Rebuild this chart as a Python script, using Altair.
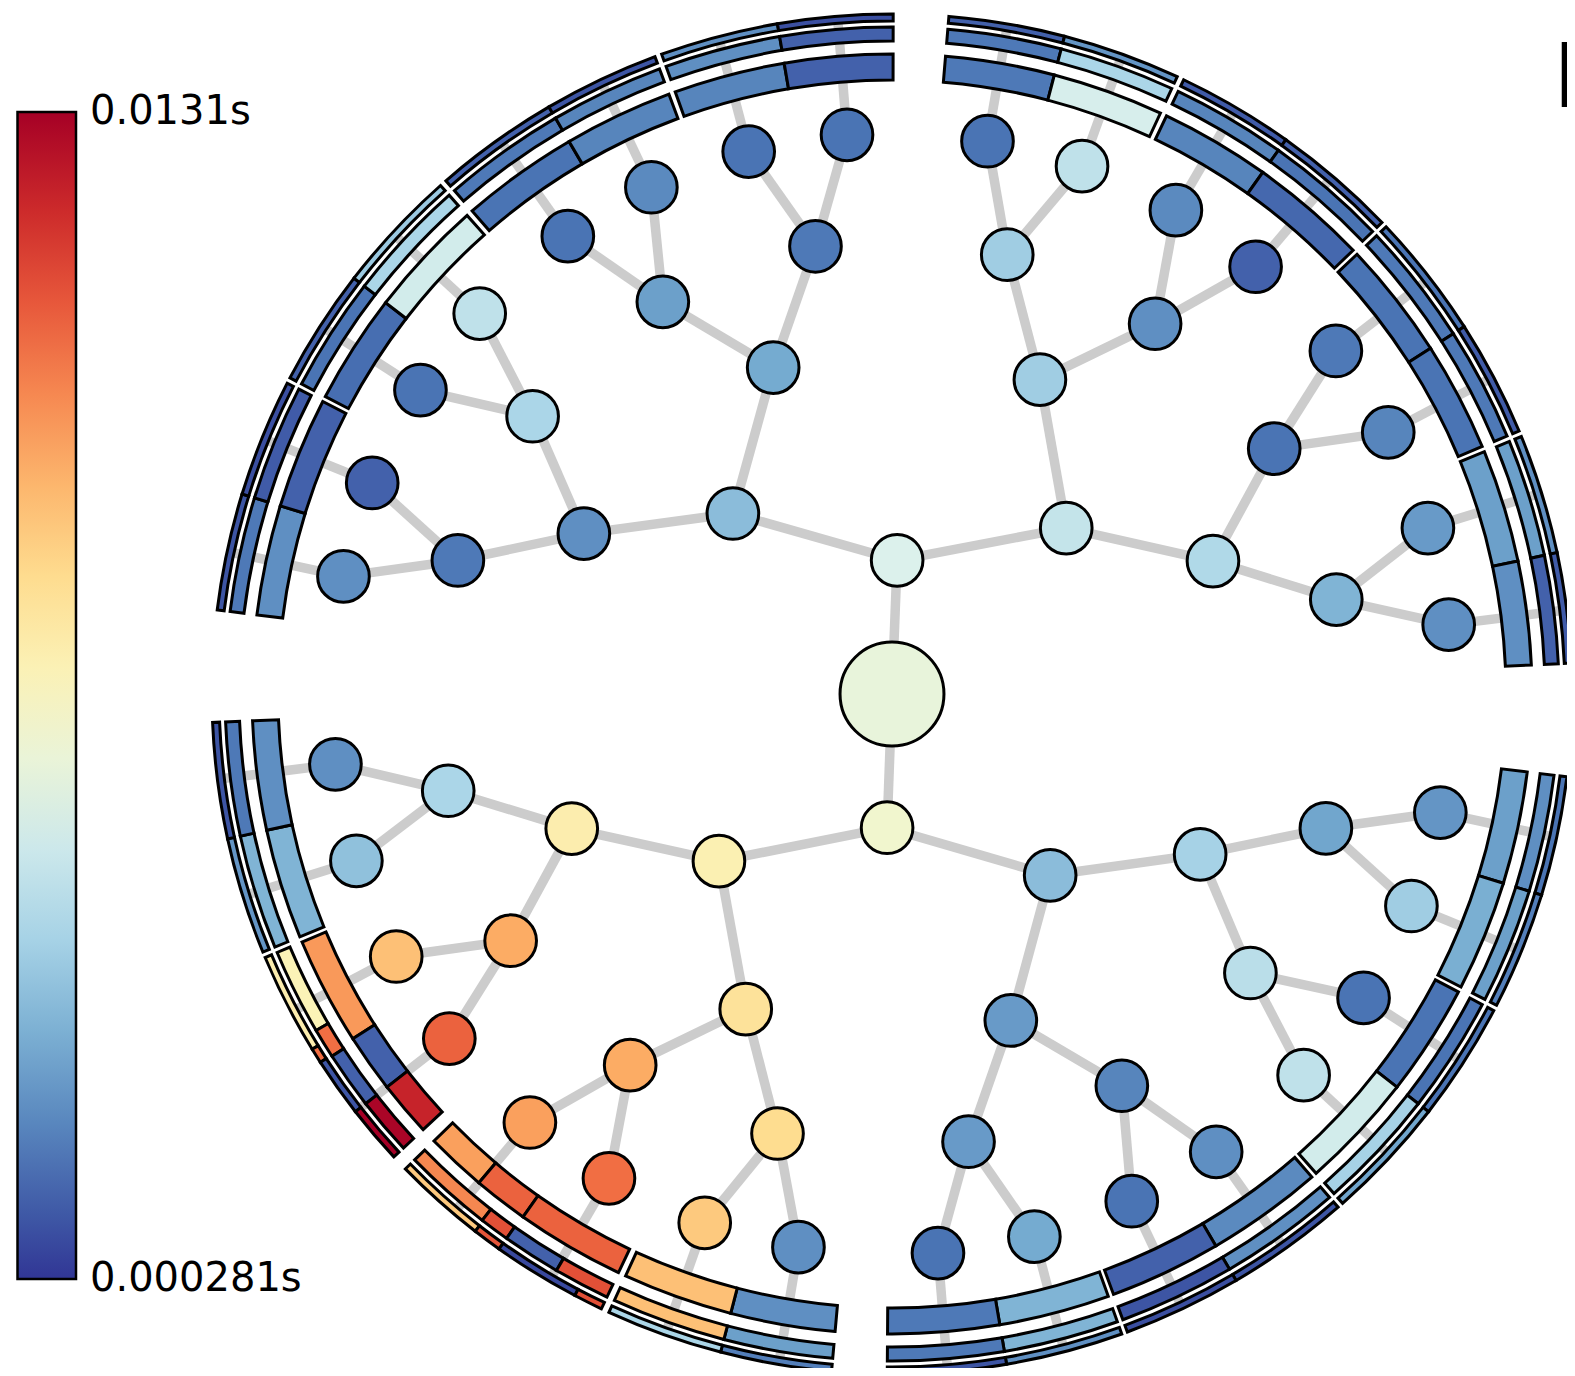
import altair as alt
import pandas as pd

# ---------------- tree nodes (radial layout: angle in degrees, ccw from east) ----------------
NODE_PARENT = [-1, 0, 0, 1, 1, 2, 2,
               3, 3, 4, 4, 5, 5, 6, 6,
               7, 7, 8, 8, 9, 9, 10, 10, 11, 11, 12, 12, 13, 13, 14, 14,
               15, 15, 16, 16, 17, 17, 18, 18, 19, 19, 20, 20, 21, 21, 22, 22,
               23, 23, 24, 24, 25, 25, 26, 26, 27, 27, 28, 28, 29, 29, 30, 30]
NODE_DEPTH = [0, 1, 1, 2, 2, 2, 2] + [3] * 8 + [4] * 16 + [5] * 32
NODE_ANGLE = [0, 87.8, 267.9, 131.4, 43.6, 224.0, 311.1,
              152.5, 110.0, 64.8, 22.5, 202.8, 245.1, 332.5, 290.0,
              162.9, 142.3, 120.3, 99.7, 75.3, 54.6, 32.7, 12.0,
              192.3, 212.9, 234.8, 255.4, 342.8, 322.1, 300.4, 279.7,
              167.9, 157.9, 147.2, 137.3, 125.3, 115.4, 104.8, 94.6,
              80.2, 70.2, 59.6, 49.6, 37.7, 27.8, 17.2, 7.1,
              187.2, 197.3, 207.9, 217.9, 229.8, 239.7, 250.5, 260.4,
              347.8, 337.8, 327.2, 317.2, 305.3, 295.3, 284.7, 274.7]
NODE_TIME = [0.00592, 0.00541, 0.00631, 0.00336, 0.00477, 0.00708, 0.00336,
             0.00220, 0.00284, 0.00387, 0.00426, 0.00720, 0.00772, 0.00400, 0.00246,
             0.00169, 0.00413, 0.00259, 0.00169, 0.00387, 0.00220, 0.00156, 0.00310,
             0.00413, 0.00925, 0.00925, 0.00797, 0.00272, 0.00451, 0.00195, 0.00246,
             0.00220, 0.00118, 0.00156, 0.00464, 0.00156, 0.00208, 0.00156, 0.00156,
             0.00156, 0.00464, 0.00208, 0.00118, 0.00169, 0.00195, 0.00246, 0.00220,
             0.00220, 0.00349, 0.00874, 0.01079, 0.00951, 0.01054, 0.00849, 0.00220,
             0.00233, 0.00387, 0.00156, 0.00464, 0.00220, 0.00156, 0.00284, 0.00156]

# ---------------- outer rings: (from angle, to angle, time) per ring level ----------------
RING_SEGMENTS = {
    1: [(162.9, 172.9, 0.00220), (152.8, 162.9, 0.00118),
        (142.3, 152.3, 0.00143), (131.6, 142.3, 0.00515),
        (120.3, 131.0, 0.00156), (110.4, 120.3, 0.00195),
        (99.7, 109.8, 0.00195), (89.9, 99.7, 0.00118),
        (75.3, 85.2, 0.00169), (65.2, 75.3, 0.00528),
        (54.6, 64.6, 0.00195), (43.9, 54.6, 0.00131),
        (32.7, 43.4, 0.00156), (22.75, 32.7, 0.00156),
        (12.0, 22.25, 0.00259), (2.6, 12.0, 0.00220),
        (342.8, 353.0, 0.00259), (332.75, 342.8, 0.00297),
        (322.1, 332.25, 0.00156), (311.5, 322.1, 0.00515),
        (300.4, 311.0, 0.00208), (290.25, 300.4, 0.00118),
        (279.7, 289.75, 0.00310), (269.6, 279.7, 0.00169),
        (255.4, 264.9, 0.00220), (245.4, 255.4, 0.00874),
        (224.3, 229.8, 0.00951), (229.8, 234.8, 0.01079), (234.8, 244.7, 0.01079),
        (202.8, 212.6, 0.00964), (212.6, 217.9, 0.00118), (217.9, 222.9, 0.01220),
        (192.3, 202.3, 0.00310), (182.4, 192.3, 0.00220)],
    2: [(162.9, 172.9, 0.00169), (152.8, 162.9, 0.00105),
        (142.3, 152.3, 0.00156), (131.6, 142.3, 0.00413),
        (120.3, 131.0, 0.00169), (110.4, 120.3, 0.00195),
        (99.7, 109.8, 0.00220), (89.9, 99.7, 0.00118),
        (75.3, 85.2, 0.00169), (65.2, 75.3, 0.00413),
        (54.6, 64.6, 0.00195), (43.9, 54.6, 0.00156),
        (32.7, 43.4, 0.00169), (22.75, 32.7, 0.00169),
        (12.0, 22.25, 0.00259), (2.6, 12.0, 0.00118),
        (342.8, 353.0, 0.00220), (332.75, 342.8, 0.00259),
        (322.1, 332.25, 0.00156), (311.5, 322.1, 0.00400),
        (300.4, 311.0, 0.00220), (290.25, 300.4, 0.00092),
        (279.7, 289.75, 0.00310), (269.6, 279.7, 0.00169),
        (255.4, 264.9, 0.00259), (245.4, 255.4, 0.00874),
        (224.3, 232.1, 0.01002), (232.1, 234.7, 0.01118), (234.7, 239.8, 0.00118), (239.8, 244.7, 0.01118),
        (202.8, 210.3, 0.00695), (210.3, 212.9, 0.01054), (212.9, 217.9, 0.00118), (217.9, 222.9, 0.01297),
        (192.3, 202.3, 0.00310), (182.4, 192.3, 0.00169)],
    3: [(162.9, 172.9, 0.00092), (152.8, 162.9, 0.00079),
        (142.3, 152.3, 0.00118), (131.6, 142.3, 0.00374),
        (120.3, 131.0, 0.00118), (110.4, 120.3, 0.00092),
        (99.7, 109.8, 0.00220), (89.9, 99.7, 0.00079),
        (75.3, 85.2, 0.00118), (65.2, 75.3, 0.00233),
        (54.6, 64.6, 0.00105), (43.9, 54.6, 0.00118),
        (32.7, 43.4, 0.00156), (22.75, 32.7, 0.00105),
        (12.0, 22.25, 0.00220), (2.6, 12.0, 0.00105),
        (342.8, 353.0, 0.00156), (332.75, 342.8, 0.00182),
        (322.1, 332.25, 0.00156), (311.5, 322.1, 0.00272),
        (300.4, 311.0, 0.00092), (290.25, 300.4, 0.00079),
        (279.7, 289.75, 0.00220), (269.6, 279.7, 0.00092),
        (255.4, 264.9, 0.00182), (245.4, 255.4, 0.00413),
        (224.3, 232.2, 0.00849), (232.2, 234.7, 0.01105), (234.7, 242.2, 0.00067), (242.2, 244.7, 0.01118),
        (202.8, 211.5, 0.00720), (211.5, 212.8, 0.01054), (212.8, 217.9, 0.00092), (217.9, 222.9, 0.01310),
        (192.3, 202.3, 0.00233), (182.4, 192.3, 0.00092)],
}
SEG_RING, SEG_FROM, SEG_TO, SEG_TIME = [], [], [], []
for ring, segs in RING_SEGMENTS.items():
    for lo, hi, t in segs:
        SEG_RING.append(ring)
        SEG_FROM.append(lo)
        SEG_TO.append(hi)
        SEG_TIME.append(t)

TIME_MIN, TIME_MAX = 0.000281, 0.0131

# ---------------- tables ----------------
nodes = pd.DataFrame({"angle": NODE_ANGLE, "depth": NODE_DEPTH, "time": NODE_TIME})

rows = []
for i, p in enumerate(NODE_PARENT):
    if p >= 0:
        rows.append({"a1": NODE_ANGLE[p], "d1": NODE_DEPTH[p], "a2": NODE_ANGLE[i], "d2": NODE_DEPTH[i]})
    if NODE_DEPTH[i] == 5:  # edge continuing outward under the rings
        rows.append({"a1": NODE_ANGLE[i], "d1": 5, "a2": NODE_ANGLE[i], "d2": 6})
edges = pd.DataFrame(rows)

segs = pd.DataFrame({"ring": SEG_RING, "lo": SEG_FROM, "hi": SEG_TO, "time": SEG_TIME})

RADIUS = "datum.{d} == 0 ? 0 : (datum.{d} > 5 ? 677 : 27 + 106.8 * datum.{d})"

xs = alt.Scale(domain=[-884, 675], nice=False, zero=False)
ys = alt.Scale(domain=[-674, 686], nice=False, zero=False)
cs = alt.Scale(scheme="redyellowblue", reverse=True, domain=[TIME_MIN, TIME_MAX])
legend = alt.Legend(
    orient="none", legendX=9.5, legendY=104, direction="vertical", title=None,
    gradientLength=1167, gradientThickness=58.5, padding=0,
    gradientStrokeColor="black", gradientStrokeWidth=2.5,
    values=[TIME_MIN + 1e-9, TIME_MAX - 1e-9], format=".3r", labelExpr="datum.label + 's'",
    labelFontSize=40, labelFont="DejaVu Sans", labelColor="black",
    labelOffset=14, labelLimit=0, labelOverlap=False,
)
color = alt.Color("time:Q", scale=cs, legend=legend)

edge_layer = alt.Chart(edges).transform_calculate(
    r1=RADIUS.format(d="d1"), r2=RADIUS.format(d="d2")
).transform_calculate(
    x1="datum.r1 * cos(datum.a1 * PI / 180)",
    y1="datum.r1 * sin(datum.a1 * PI / 180)",
    x2="datum.r2 * cos(datum.a2 * PI / 180)",
    y2="datum.r2 * sin(datum.a2 * PI / 180)",
).mark_rule(color="#cccccc", strokeWidth=9.5).encode(
    x=alt.X("x1:Q", scale=xs, axis=None),
    y=alt.Y("y1:Q", scale=ys, axis=None),
    x2="x2:Q",
    y2="y2:Q",
)

arc_layer = alt.Chart(segs).transform_calculate(
    th1="(450 - datum.hi) * PI / 180",
    th2="(450 - datum.lo) * PI / 180",
    rin="datum.ring == 1 ? 614 : (datum.ring == 2 ? 653 : 673)",
    rout="datum.ring == 1 ? 640 : (datum.ring == 2 ? 667 : 680)",
).mark_arc(stroke="black", strokeWidth=3).encode(
    theta=alt.Theta("th1:Q", scale=None, stack=None),
    theta2="th2:Q",
    radius=alt.Radius("rin:Q", scale=None),
    radius2="rout:Q",
    x=alt.XDatum(0, type="quantitative", scale=xs, axis=None),
    y=alt.YDatum(0, type="quantitative", scale=ys, axis=None),
    color=color,
)

node_base = alt.Chart(nodes).transform_calculate(
    r=RADIUS.format(d="depth")
).transform_calculate(
    x="datum.r * cos(datum.angle * PI / 180)",
    y="datum.r * sin(datum.angle * PI / 180)",
)
node_layer = node_base.transform_filter("datum.depth > 0").mark_circle(
    size=2670, stroke="black", strokeWidth=3, opacity=1
).encode(
    x=alt.X("x:Q", scale=xs, axis=None),
    y=alt.Y("y:Q", scale=ys, axis=None),
    color=color,
)
root_layer = node_base.transform_filter("datum.depth == 0").mark_circle(
    size=10800, stroke="black", strokeWidth=3, opacity=1
).encode(
    x=alt.X("x:Q", scale=xs, axis=None),
    y=alt.Y("y:Q", scale=ys, axis=None),
    color=color,
)

label_layer = alt.Chart(pd.DataFrame({"k": [0]})).mark_text(
    text="B", fontSize=89, font="DejaVu Sans", align="left", baseline="alphabetic", color="black"
).encode(
    x=alt.XDatum(661, type="quantitative", scale=xs, axis=None),
    y=alt.YDatum(587, type="quantitative", scale=ys, axis=None),
)

chart = alt.layer(edge_layer, arc_layer, node_layer, root_layer, label_layer).properties(
    width=1559, height=1360, padding=0, autosize=alt.AutoSizeParams(type="none")
).configure_view(strokeWidth=0)

chart.save("out.html", embed_options={"renderer": "svg", "actions": False})
